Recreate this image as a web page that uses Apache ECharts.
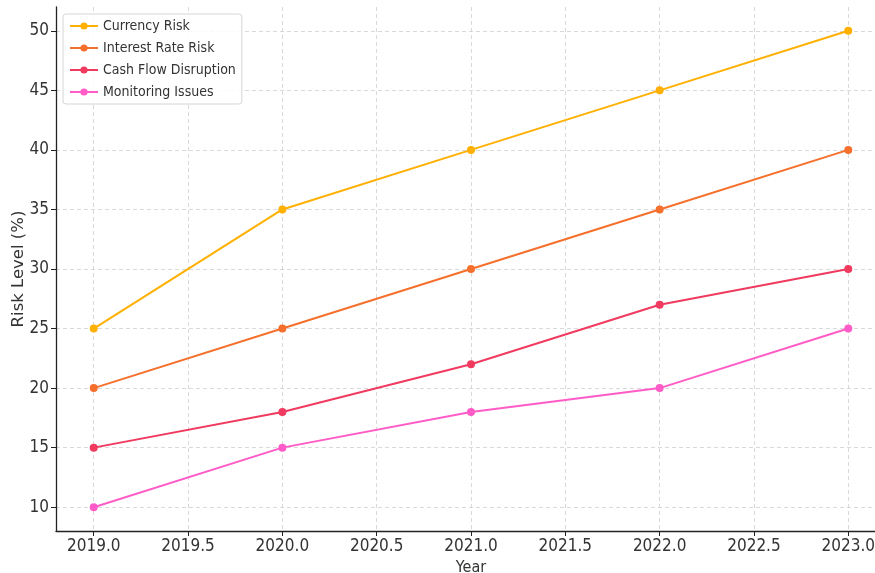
<!DOCTYPE html>
<html><head><meta charset="utf-8">
<script src="https://cdn.jsdelivr.net/npm/echarts@6/dist/echarts.min.js"></script>
<style>html,body{margin:0;padding:0;background:#fff}#c{width:875px;height:573px}</style>
</head><body><div id="c"></div>
<script>
const years = [2019, 2020, 2021, 2022, 2023];
const seriesNames = ["Currency Risk", "Interest Rate Risk", "Cash Flow Disruption", "Monitoring Issues"];
const currencyRisk = [25, 35, 40, 45, 50];
const interestRateRisk = [20, 25, 30, 35, 40];
const cashFlowDisruption = [15, 18, 22, 27, 30];
const monitoringIssues = [10, 15, 18, 20, 25];
const xTicks = [2019.0, 2019.5, 2020.0, 2020.5, 2021.0, 2021.5, 2022.0, 2022.5, 2023.0];
const yTicks = [10, 15, 20, 25, 30, 35, 40, 45, 50];
const colors = ["#FFB000", "#F5702C", "#F03A5F", "#FF5CC8"];
const allValues = [currencyRisk, interestRateRisk, cashFlowDisruption, monitoringIssues];

const font = "'DejaVu Sans Condensed', 'DejaVu Sans', sans-serif";
const chart = echarts.init(document.getElementById('c'), null, {renderer: 'canvas'});
chart.setOption({
  animation: false,
  backgroundColor: '#fff',
  textStyle: {fontFamily: font},
  grid: {left: 56, right: -11, top: 7, bottom: 42, containLabel: false, outerBoundsMode: 'none'},
  legend: {
    left: 63, top: 14, orient: 'vertical', itemGap: 8,
    itemWidth: 28, itemHeight: 9,
    backgroundColor: 'rgba(255,255,255,0.85)', borderColor: '#d6d6d6', borderWidth: 1, borderRadius: 3,
    padding: [5, 6, 5, 6],
    textStyle: {fontFamily: font, fontSize: 14, color: '#333'},
    data: seriesNames
  },
  xAxis: {
    type: 'value', min: 2018.8, max: 2023.2,
    name: 'Year', nameLocation: 'middle', nameGap: 29, nameMoveOverlap: false,
    nameTextStyle: {fontFamily: font, fontSize: 16, color: '#333'},
    axisLine: {lineStyle: {color: '#222', width: 1.3}},
    axisTick: {show: true, length: 5, lineStyle: {color: '#222'}, customValues: xTicks},
    axisLabel: {fontFamily: font, fontSize: 17, color: '#333', customValues: xTicks, margin: 7,
      formatter: v => v.toFixed(1)},
    splitLine: {show: true, lineStyle: {color: '#cfcfcf', type: [4, 3], width: 0.8}}
  },
  yAxis: {
    type: 'value', min: 8, max: 52,
    name: 'Risk Level (%)', nameLocation: 'middle', nameGap: 29, nameMoveOverlap: false,
    nameTextStyle: {fontFamily: "'DejaVu Sans', sans-serif", fontSize: 16.5, color: '#333'},
    axisLine: {show: true, lineStyle: {color: '#222', width: 1.3}},
    axisTick: {show: true, length: 5, lineStyle: {color: '#222'}, customValues: yTicks},
    axisLabel: {fontFamily: font, fontSize: 17, color: '#333', customValues: yTicks, margin: 7,
      formatter: v => String(v)},
    splitLine: {show: true, lineStyle: {color: '#cfcfcf', type: [4, 3], width: 0.8}}
  },
  series: allValues.map((vals, i) => ({
    name: seriesNames[i], type: 'line',
    data: years.map((y, j) => [y, vals[j]]),
    symbol: 'circle', symbolSize: 8,
    lineStyle: {width: 2, color: colors[i]},
    itemStyle: {color: colors[i]}
  }))
});
</script></body></html>
